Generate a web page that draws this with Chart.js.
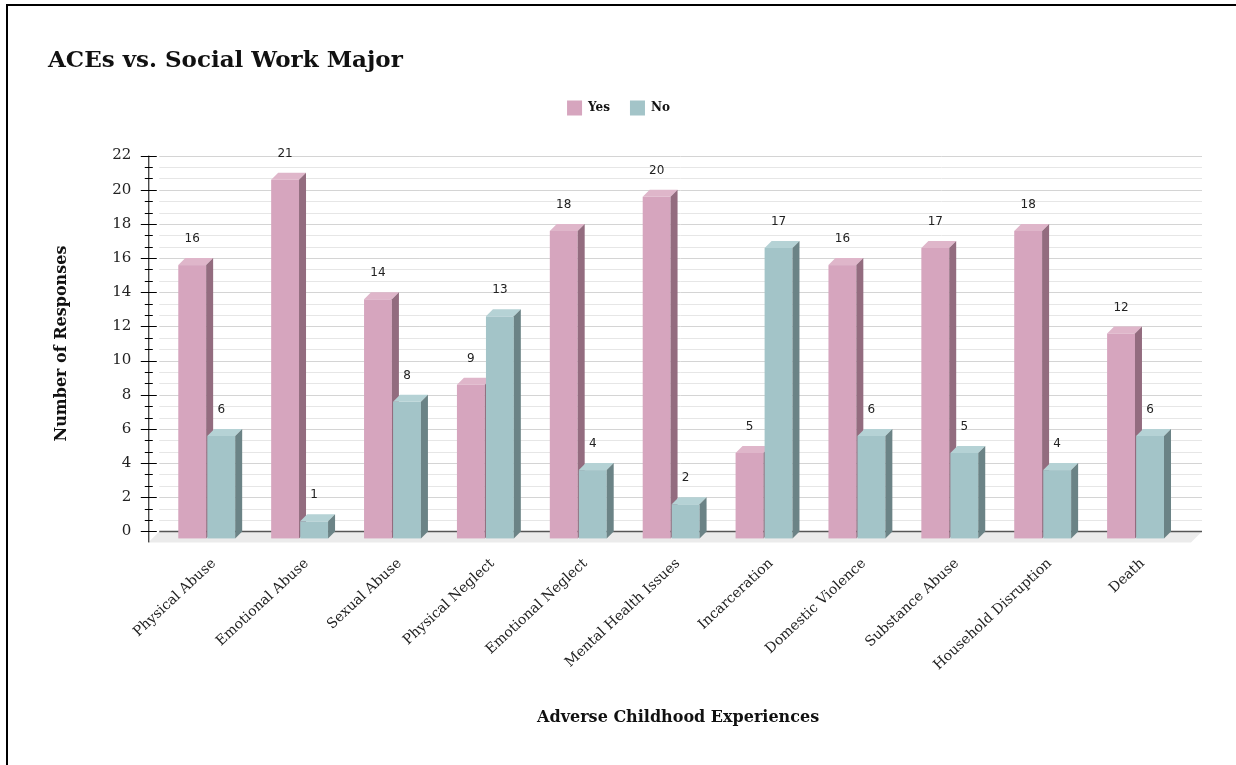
<!DOCTYPE html>
<html>
<head>
<meta charset="utf-8">
<title>ACEs vs. Social Work Major</title>
<script src="https://cdn.jsdelivr.net/npm/chart.js@4.4.1/dist/chart.umd.min.js"></script>
<style>
    html, body { margin: 0; padding: 0; background: #fff; }
    body { width: 1236px; height: 765px; overflow: hidden; position: relative; }
    /* marco negro del recuadro donde va el gráfico */
    #marco { position: absolute; left: 6px; top: 4px; width: 1250px; height: 800px; border: 2px solid #000; }
    #graficoACEs { position: absolute; left: 0; top: 0; }
</style>
</head>
<body>
<div id="marco"></div>
<canvas id="graficoACEs" width="1236" height="765"></canvas>
<script>
/*
    Barras agrupadas "Yes" / "No" por tipo de experiencia adversa (ACEs),
    dibujadas con Chart.js y un plugin que les da aspecto 3D.
*/

const categorias = [
    "Physical Abuse", "Emotional Abuse", "Sexual Abuse", "Physical Neglect",
    "Emotional Neglect", "Mental Health Issues", "Incarceration",
    "Domestic Violence", "Substance Abuse", "Household Disruption", "Death"
];
const respuestasSi = [16, 21, 14, 9, 18, 20, 5, 16, 17, 18, 12];
const respuestasNo = [6, 1, 8, 13, 4, 2, 17, 6, 5, 4, 6];
const etiquetasEjeY = [0, 2, 4, 6, 8, 10, 12, 14, 16, 18, 20, 22];

// cada intervalo de 2 se divide en 3 líneas menores
const divisionesMenores = 3;
const profundidad = 7;   // desplazamiento de la cara frontal
const fondoSuelo = 11;   // profundidad del "suelo" gris

const colores = [
    { frente: "#d6a5be", tapa: "#dfb6ca", lado: "#936c7f" },
    { frente: "#a3c4c8", tapa: "#b5d2d5", lado: "#6b8386" }
];

// hueco entre la leyenda y la zona del gráfico
const separadorLeyenda = {
    id: "separadorLeyenda",
    beforeInit(chart) {
        Chart.layouts.addBox(chart, {
            position: "top", weight: 900, fullSize: true, options: {},
            top: 0, left: 0, right: 0, bottom: 0, width: 0, height: 0,
            isHorizontal() { return true; },
            update(maxWidth) { this.width = maxWidth; this.height = 30; },
            draw() {}
        });
    }
};

// rejilla, suelo y eje vertical con marcas mayores y menores
const ejes3D = {
    id: "ejes3D",
    beforeDatasetsDraw(chart) {
        const { ctx, chartArea, scales: { y } } = chart;
        const izq = chartArea.left - 8;
        const der = chartArea.right + 13;
        const cero = y.getPixelForValue(0);
        const ejeX = izq - fondoSuelo;

        ctx.save();
        ctx.lineWidth = 1;

        const lineas = [];
        etiquetasEjeY.forEach((v, i) => {
            lineas.push({ valor: v, mayor: true });
            const sig = etiquetasEjeY[i + 1];
            if (sig === undefined) return;
            for (let k = 1; k < divisionesMenores; k++) {
                lineas.push({ valor: v + (sig - v) * k / divisionesMenores, mayor: false });
            }
        });

        // líneas horizontales de la rejilla
        lineas.forEach(l => {
            if (l.valor === 0) return;
            const py = Math.round(y.getPixelForValue(l.valor)) + 0.5;
            ctx.strokeStyle = l.mayor ? "#d4d4d4" : "#e6e6e6";
            ctx.beginPath();
            ctx.moveTo(izq, py);
            ctx.lineTo(der, py);
            ctx.stroke();
        });

        // suelo
        ctx.fillStyle = "#ebebeb";
        ctx.beginPath();
        ctx.moveTo(izq, cero);
        ctx.lineTo(der, cero);
        ctx.lineTo(der - fondoSuelo, cero + fondoSuelo);
        ctx.lineTo(izq - fondoSuelo, cero + fondoSuelo);
        ctx.closePath();
        ctx.fill();

        ctx.strokeStyle = "#555";
        ctx.lineWidth = 1.5;
        ctx.beginPath();
        ctx.moveTo(izq, cero);
        ctx.lineTo(der, cero);
        ctx.stroke();

        // eje vertical y marcas
        ctx.strokeStyle = "#000";
        ctx.lineWidth = 1;
        ctx.beginPath();
        ctx.moveTo(ejeX + 0.5, y.getPixelForValue(etiquetasEjeY[etiquetasEjeY.length - 1]));
        ctx.lineTo(ejeX + 0.5, cero + fondoSuelo);
        ctx.stroke();
        lineas.forEach(l => {
            const py = Math.round(y.getPixelForValue(l.valor)) + 0.5;
            const largo = l.mayor ? 8 : 4;
            ctx.beginPath();
            ctx.moveTo(ejeX + 0.5 - largo, py);
            ctx.lineTo(ejeX + 0.5 + largo, py);
            ctx.stroke();
        });
        ctx.restore();
    },
    // las barras planas se sustituyen por las 3D
    beforeDatasetDraw() {
        return false;
    },
    afterDatasetsDraw(chart) {
        const { ctx } = chart;
        const metas = [chart.getDatasetMeta(0), chart.getDatasetMeta(1)];
        ctx.save();
        for (let i = 0; i < categorias.length; i++) {
            metas.forEach((meta, d) => {
                const barra = meta.data[i];
                if (!barra) return;
                dibujarBarra3D(ctx, barra.getProps(["x", "y", "base", "width"], true), colores[d]);
            });
        }
        // valores encima de cada barra
        ctx.fillStyle = "#222";
        ctx.font = "12px 'DejaVu Sans'";
        ctx.textAlign = "center";
        ctx.textBaseline = "middle";
        metas.forEach((meta, d) => {
            const datos = chart.data.datasets[d].data;
            meta.data.forEach((barra, i) => {
                const p = barra.getProps(["x", "y"], true);
                ctx.fillText(String(datos[i]), p.x - profundidad, p.y - 19);
            });
        });
        ctx.restore();
    }
};

function dibujarBarra3D(ctx, b, c) {
    const x0 = b.x - b.width / 2;
    const x1 = b.x + b.width / 2;
    const p = profundidad;

    // cara frontal
    ctx.fillStyle = c.frente;
    ctx.fillRect(x0 - p, b.y + p, b.width, b.base - b.y);

    // tapa
    ctx.fillStyle = c.tapa;
    ctx.beginPath();
    ctx.moveTo(x0 - p, b.y + p);
    ctx.lineTo(x1 - p, b.y + p);
    ctx.lineTo(x1, b.y);
    ctx.lineTo(x0, b.y);
    ctx.closePath();
    ctx.fill();

    // lateral
    ctx.fillStyle = c.lado;
    ctx.beginPath();
    ctx.moveTo(x1 - p, b.y + p);
    ctx.lineTo(x1, b.y);
    ctx.lineTo(x1, b.base);
    ctx.lineTo(x1 - p, b.base + p);
    ctx.closePath();
    ctx.fill();
}

const fuenteSerif = "'DejaVu Serif', 'Liberation Serif', serif";

new Chart(document.getElementById("graficoACEs"), {
    type: "bar",
    data: {
        labels: categorias,
        datasets: [
            { label: "Yes", data: respuestasSi, backgroundColor: colores[0].frente, borderWidth: 0 },
            { label: "No", data: respuestasNo, backgroundColor: colores[1].frente, borderWidth: 0 }
        ]
    },
    options: {
        responsive: false,
        animation: false,
        events: [],
        datasets: { bar: { categoryPercentage: 0.625, barPercentage: 0.96 } },
        layout: { padding: { left: 48, right: 47, top: 0, bottom: 20 } },
        plugins: {
            title: {
                display: true,
                text: "ACEs vs. Social Work Major",
                align: "start",
                color: "#111",
                font: { family: fuenteSerif, size: 23, weight: "bold" },
                padding: { top: 47, bottom: 6 }
            },
            legend: {
                display: true,
                labels: {
                    color: "#111",
                    boxWidth: 15,
                    boxHeight: 15,
                    padding: 20,
                    font: { family: fuenteSerif, size: 12, weight: "bold" }
                }
            },
            tooltip: { enabled: false }
        },
        scales: {
            x: {
                grid: { display: false, drawTicks: false },
                border: { display: false },
                ticks: {
                    autoSkip: false,
                    minRotation: 43,
                    maxRotation: 43,
                    padding: 24,
                    color: "#222",
                    font: { family: fuenteSerif, size: 14 }
                },
                title: {
                    display: true,
                    text: "Adverse Childhood Experiences",
                    color: "#111",
                    font: { family: fuenteSerif, size: 16, weight: "bold" },
                    padding: { top: 10, bottom: 18 }
                }
            },
            y: {
                min: 0,
                max: 22,
                grid: { display: false, drawTicks: false },
                border: { display: false },
                afterBuildTicks: (escala) => {
                    escala.ticks = etiquetasEjeY.map(v => ({ value: v }));
                },
                ticks: {
                    padding: 36,
                    color: "#222",
                    font: { family: fuenteSerif, size: 15 }
                },
                title: {
                    display: true,
                    text: "Number of Responses",
                    color: "#111",
                    font: { family: fuenteSerif, size: 16, weight: "bold" },
                    padding: { top: 4, bottom: 5 }
                }
            }
        }
    },
    plugins: [separadorLeyenda, ejes3D]
});
</script>
</body>
</html>
